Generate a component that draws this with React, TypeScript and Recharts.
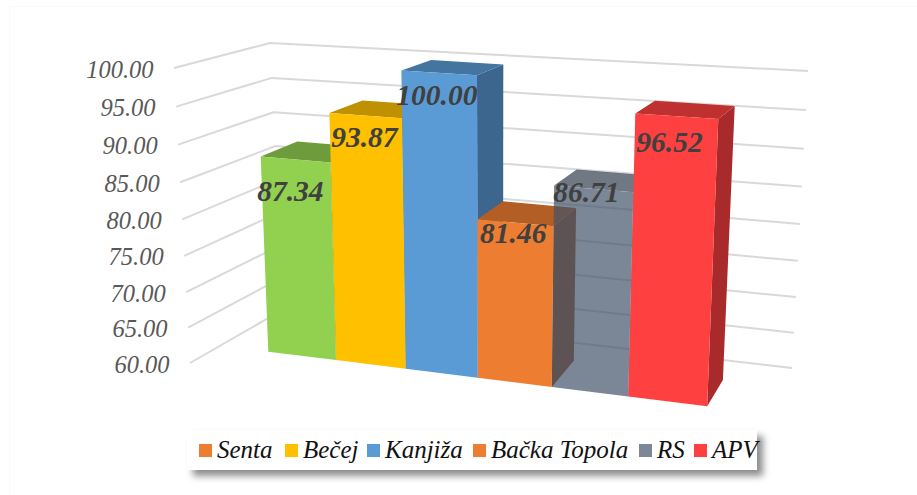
import { BarChart, Bar, Cell, CartesianGrid, LabelList, Legend, XAxis, YAxis, usePlotArea } from 'recharts'

const categories = ['Senta', 'Bečej', 'Kanjiža', 'Bačka Topola', 'RS', 'APV']
const values = [87.34, 93.87, 100.0, 81.46, 86.71, 96.52]
const yTicks = [60, 65, 70, 75, 80, 85, 90, 95, 100]

const BAR_COLORS = ['#92D050', '#FFC000', '#5B9BD5', '#ED7D31', '#44546A', '#FF4040']
const LEGEND_COLORS = ['#ED7D31', '#FFC000', '#5B9BD5', '#ED7D31', '#7C8797', '#FF4040']
const BAR_OPACITY = [1, 1, 1, 1, 0.7, 1]
const LABEL_NUDGE = [[-5, 32], [-1, 21], [-2, 22], [-2, 10], [-7, 3], [-7, 26]]
const LEGEND_X = [12, 98, 180, 286, 452, 507]

const SERIF = '"Liberation Serif", "DejaVu Serif", serif'

type Pt = [number, number]

// maps the unit square to a quad: TL, TR, BR, BL
const homography = ([p0, p1, p2, p3]: Pt[]) => {
  const dx1 = p1[0] - p2[0]
  const dx2 = p3[0] - p2[0]
  const sx = p0[0] - p1[0] + p2[0] - p3[0]
  const dy1 = p1[1] - p2[1]
  const dy2 = p3[1] - p2[1]
  const sy = p0[1] - p1[1] + p2[1] - p3[1]
  const den = dx1 * dy2 - dx2 * dy1
  const g = (sx * dy2 - dx2 * sy) / den
  const h = (dx1 * sy - sx * dy1) / den
  const a = p1[0] - p0[0] + g * p1[0]
  const b = p3[0] - p0[0] + h * p3[0]
  const d = p1[1] - p0[1] + g * p1[1]
  const e = p3[1] - p0[1] + h * p3[1]
  return (u: number, v: number): Pt => {
    const w = g * u + h * v + 1
    return [(a * u + b * v + p0[0]) / w, (d * u + e * v + p0[1]) / w]
  }
}

const barFront = homography([[257, 61.7], [719.5, 90], [707.3, 406.3], [268.3, 351.7]])
const barBack = homography([[294, 51.7], [736, 78.5], [723, 380], [304, 326]])
const backWall = homography([[270, 43], [808, 71], [792, 368], [284, 309]])
// the wall's near edge, with a little perspective in the spacing
const wallEdge = (v: number): Pt => {
  const t = v / (v + (1 - v) * 0.95)
  return [174 + 16 * t, 68 + 295 * t]
}

const toPoints = (pts: Pt[]) => pts.map((p) => `${p[0].toFixed(1)},${p[1].toFixed(1)}`).join(' ')

const shade = (hex: string, k: number) => {
  const n = parseInt(hex.slice(1), 16)
  const c = [n >> 16, (n >> 8) & 255, n & 255].map((x) => Math.round(x * k))
  return `rgb(${c.join(',')})`
}

const Bar3D = (props: any) => {
  const plot = usePlotArea()
  if (!plot) return null
  const { x, y, width, index } = props
  const u0 = (x - plot.x) / plot.width
  const u1 = (x + width - plot.x) / plot.width
  const vt = (y - plot.y) / plot.height
  const color = BAR_COLORS[index]
  return (
    <g opacity={BAR_OPACITY[index]}>
      <polygon points={toPoints([barFront(u1, vt), barBack(u1, vt), barBack(u1, 1), barFront(u1, 1)])} fill={shade(color, 0.66)} />
      <polygon points={toPoints([barFront(u0, vt), barFront(u1, vt), barBack(u1, vt), barBack(u0, vt)])} fill={shade(color, 0.75)} />
      <polygon points={toPoints([barFront(u0, vt), barFront(u1, vt), barFront(u1, 1), barFront(u0, 1)])} fill={color} />
    </g>
  )
}

const BarValue = (props: any) => {
  const plot = usePlotArea()
  if (!plot) return null
  const { x, y, width, index, value } = props
  const [px, py] = barFront((x + width / 2 - plot.x) / plot.width, (y - plot.y) / plot.height)
  const [nx, ny] = LABEL_NUDGE[index]
  return (
    <text
      x={px + nx}
      y={py + ny}
      textAnchor="middle"
      dominantBaseline="central"
      fontFamily={SERIF}
      fontStyle="italic"
      fontWeight="bold"
      fontSize={29.5}
      fill="#404040"
    >
      {Number(value).toFixed(2)}
    </text>
  )
}

const AxisTick = (props: any) => {
  const plot = usePlotArea()
  if (!plot) return null
  const [px, py] = wallEdge((props.y - plot.y) / plot.height)
  return (
    <text
      x={px - 20.5}
      y={py + 1}
      textAnchor="end"
      dominantBaseline="central"
      fontFamily={SERIF}
      fontStyle="italic"
      fontSize={24.5}
      fill="#595959"
    >
      {Number(props.payload.value).toFixed(2)}
    </text>
  )
}

const GridLine = (props: any) => {
  const v = (props.y1 - props.y) / props.height
  return (
    <polyline
      points={toPoints([wallEdge(v), backWall(0, v), backWall(1, v)])}
      fill="none"
      stroke="#D9D9D9"
      strokeWidth={2}
    />
  )
}

const LegendBox = () => (
  <div style={{ position: 'relative', width: 570, height: 40 }}>
    {categories.map((name, i) => (
      <div
        key={name}
        style={{ position: 'absolute', left: LEGEND_X[i], top: 0, height: 40, display: 'flex', alignItems: 'center', whiteSpace: 'nowrap' }}
      >
        <span style={{ width: 13, height: 13, marginRight: 5, background: LEGEND_COLORS[i], display: 'inline-block' }} />
        <span style={{ fontFamily: SERIF, fontStyle: 'italic', fontSize: 25, color: '#111' }}>{name}</span>
      </div>
    ))}
  </div>
)

const data = categories.map((name, i) => ({ name, value: values[i] }))

export default function App() {
  return (
    <div style={{ position: 'fixed', left: 0, top: 0, width: 917, height: 495, background: '#fff', overflow: 'hidden' }}>
      <div style={{ position: 'absolute', left: 9, top: 6, right: -2, bottom: -2, border: '1px solid #fafafa' }} />
      <BarChart
        width={917}
        height={495}
        data={data}
        barCategoryGap={0}
        margin={{ top: 20, right: 20, bottom: 10, left: 20 }}
        style={{ position: 'absolute', left: 0, top: 0 }}
      >
        <CartesianGrid vertical={false} horizontal={(p: any) => <GridLine key={p.index} {...p} />} />
        <XAxis dataKey="name" hide />
        <YAxis
          domain={[60, 100]}
          ticks={yTicks}
          width={60}
          axisLine={false}
          tickLine={false}
          interval={0}
          tick={(p: any) => <AxisTick {...p} />}
        />
        <Legend
          content={() => <LegendBox />}
          wrapperStyle={{
            left: 187,
            top: 430,
            bottom: 'auto',
            width: 570,
            height: 40,
            background: '#fff',
            boxShadow: '6px 6px 7px rgba(0,0,0,0.45)',
          }}
        />
        <Bar dataKey="value" isAnimationActive={false} shape={(p: any) => <Bar3D {...p} />}>
          {data.map((d, i) => (
            <Cell key={d.name} fill={BAR_COLORS[i]} />
          ))}
          <LabelList dataKey="value" content={(p: any) => <BarValue {...p} />} />
        </Bar>
      </BarChart>
    </div>
  )
}
